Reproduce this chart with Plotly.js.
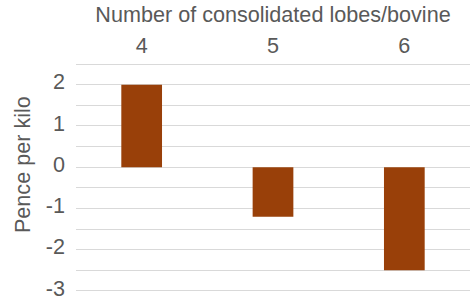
<!DOCTYPE html>
<html><head><meta charset="utf-8">
<script src="https://cdn.plot.ly/plotly-3.0.1.min.js"></script>
<style>html,body{margin:0;padding:0;background:#fff;overflow:hidden}#chart{width:471px;height:299px}</style>
</head><body><div id="chart"></div>
<script>
const categories = ["4", "5", "6"];
const values = [2.0, -1.2, -2.5];
const yTickVals = [-3, -2, -1, 0, 1, 2];
const yTickText = ["-3", "-2", "-1", "0", "1", "2"];
const xTitle = "Number of consolidated lobes/bovine";
const yTitle = "Pence per kilo";

const font = {family: "Liberation Sans, Arial, sans-serif", size: 21.6, color: "#595959"};
Plotly.newPlot("chart", [{
  type: "bar", x: categories, y: values,
  marker: {color: "#994009"}, width: 0.31
}], {
  width: 471, height: 299,
  margin: {l: 76, r: 1, t: 62, b: 6, autoexpand: false},
  paper_bgcolor: "#fff", plot_bgcolor: "#fff",
  font: font,
  showlegend: false,
  xaxis: {
    side: "top", type: "category", automargin: false,
    title: {text: xTitle, font: font, standoff: 4},
    showgrid: false, showline: false, zeroline: false, ticks: "",
    tickfont: font, ticklabelstandoff: 4
  },
  yaxis: {
    range: [-3.05, 2.55], tickvals: yTickVals, ticktext: yTickText, automargin: false,
    showgrid: true, gridcolor: "#d9d9d9", gridwidth: 1,
    zeroline: true, zerolinecolor: "#d9d9d9", zerolinewidth: 1,
    minor: {dtick: 0.5, tick0: 0, showgrid: true, gridcolor: "#d9d9d9", gridwidth: 1, ticks: ""},
    showline: false, ticks: "", ticklabelstandoff: 10, ticklabelshift: -3, ticklabeloverflow: "allow",
    tickfont: font
  },
  annotations: [{
    text: yTitle, textangle: -90, showarrow: false,
    xref: "paper", yref: "paper", x: -0.137, y: 0.554,
    xanchor: "center", yanchor: "middle", font: font
  }]
}, {displayModeBar: false, staticPlot: true});
</script></body></html>
